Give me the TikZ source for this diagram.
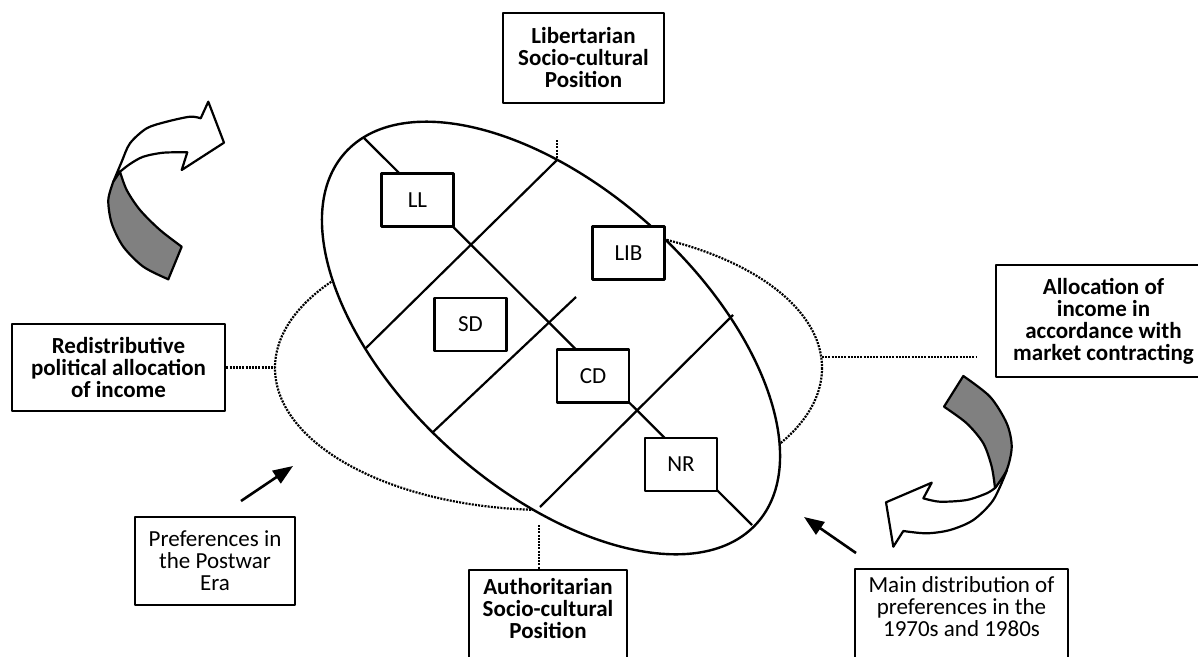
\documentclass[tikz,border=0pt]{standalone}
\usepackage{fontspec}
\setmainfont{Carlito}
\usetikzlibrary{arrows.meta}

\begin{document}
\begin{tikzpicture}[x=1pt,y=-1pt,line join=round]
\tikzstyle{bigbox}=[draw,line width=2.8pt,fill=white,align=center,inner sep=0pt,font=\bfseries\fontsize{23}{22}\selectfont]
\tikzstyle{notebox}=[draw,line width=2.8pt,fill=white,align=center,inner sep=0pt,font=\fontsize{23}{22}\selectfont]
\tikzstyle{party}=[draw,line width=2.8pt,fill=white,inner sep=0pt,minimum width=72pt,minimum height=53pt,font=\fontsize{23}{22}\selectfont]
\tikzstyle{band}=[draw=black,line width=2.2pt,line join=round]
\tikzstyle{cutline}=[line width=2.2pt]
\tikzstyle{dotline}=[dash pattern=on 2pt off 1.2pt,line width=2.2pt]
\tikzstyle{pointer}=[-{Triangle[length=20pt,width=15pt]},line width=2.6pt]
\useasboundingbox (0,0) rectangle (1198,656);

% the two preference spaces
\draw[dotline] (548.5,368) ellipse [x radius=273.5,y radius=142];
\draw[line width=2.4pt,fill=white,rotate around={-42:(551,338)}] (551,338) ellipse [x radius=277,y radius=150];

% axis and cuts
\coordinate (axNW) at (364,138);
\coordinate (axSE) at (752,525);
\coordinate (c1-ne) at (557,160);
\coordinate (c1-sw) at (366,348);
\coordinate (c2-ne) at (576,297);
\coordinate (c2-sw) at (433,432);
\coordinate (c3-ne) at (733,315);
\coordinate (c3-sw) at (540,507);
\draw[cutline] (axNW) -- (axSE);
\foreach \n in {1,2,3}
  \draw[cutline] (c\n-ne) -- (c\n-sw);

% parties
\foreach \n/\x/\y in {LL/417.5/200,LIB/628.5/253,SD/470.5/324.5,CD/593/376,NR/681/464.5}
  \node[party] (\n) at (\x,\y) {\n};

% dimension labels
\node[bigbox,minimum width=161pt,minimum height=90pt] (lib) at (583.5,58) {Libertarian\\Socio-cultural\\Position};
\node[bigbox,minimum width=213pt,minimum height=87pt] (redis) at (118.5,367.5) {Redistributive\\political allocation\\of income};
\node[bigbox,minimum width=215pt,minimum height=112pt] (alloc) at (1103.5,321) {Allocation of\\income in\\accordance with\\market contracting};
\node[bigbox,minimum width=158pt,minimum height=92pt] (auth) at (548,616) {Authoritarian\\Socio-cultural\\Position\\[-6pt]};
\node[notebox,minimum width=160pt,minimum height=88pt] (postwar) at (215,561) {Preferences in\\the Postwar\\Era};
\node[notebox,minimum width=213pt,minimum height=92pt] (seventies) at (961.5,615) {Main distribution of\\preferences in the\\1970s and 1980s\\[-6pt]};

% dotted links
\coordinate (dotW) at (275,367.5);
\coordinate (dotE) at (822,357);
\coordinate (dotEend) at (977,357);
\coordinate (dotN) at (557,140);
\coordinate (dotS) at (539,525);
\draw[dotline] (redis.east) -- (dotW);
\draw[dotline] (dotE) -- (dotEend);
\draw[dotline] (dotN) -- (c1-ne);
\draw[dotline] (dotS) -- (dotS |- auth.north);

% pointers
\coordinate (pwTail) at (241,501);
\coordinate (pwHead) at (293,466);
\coordinate (svTail) at (856,553);
\coordinate (svHead) at (804,517);
\draw[pointer] (pwTail) -- (pwHead);
\draw[pointer] (svTail) -- (svHead);

% curved arrow, upper left
\filldraw[band,fill=white] (113.3,181.7) -- plot[smooth] coordinates {(113.3,181.7) (121.7,161.7) (130,143.3) (146.7,128.3) (166.7,121.7) (190,116.7) (200.7,118.3)}
  -- (208.3,101.7) -- (224,142.7) -- (181.7,170) -- (187.3,152.3)
  -- plot[smooth] coordinates {(187.3,152.3) (163.3,152.7) (143.3,156.7) (130,164) (120,171.7)} -- cycle;
\filldraw[band,fill=gray] (113.3,181.7) -- plot[smooth] coordinates {(113.3,181.7) (108.3,200) (111.7,223.3) (123.3,246.7) (143.3,266.7) (168.3,279.3)}
  -- (181.7,246.7)
  -- plot[smooth] coordinates {(181.7,246.7) (160,230) (140,210) (126.7,190) (120,171.7)} -- cycle;

% curved arrow, lower right
\filldraw[band,fill=white] (1007,470) -- plot[smooth] coordinates {(1007,470) (993.3,500) (973.3,520) (950,530) (926.7,533.3) (903.3,531)}
  -- (893.3,546.7) -- (886,502.3) -- (931.7,482.7) -- (923.3,498.3)
  -- plot[smooth] coordinates {(923.3,498.3) (940,501.7) (966.7,500) (986.7,493.3) (995,488)} -- cycle;
\filldraw[band,fill=gray] (963.3,376) -- plot[smooth] coordinates {(963.3,376) (990,396.7) (1006.7,423.3) (1011.7,446.7) (1006.7,470) (995,488)}
  -- plot[smooth] coordinates {(995,488) (991.7,466.7) (983.3,443.3) (966.7,423.3) (944,406.7)} -- cycle;

\end{tikzpicture}
\end{document}
